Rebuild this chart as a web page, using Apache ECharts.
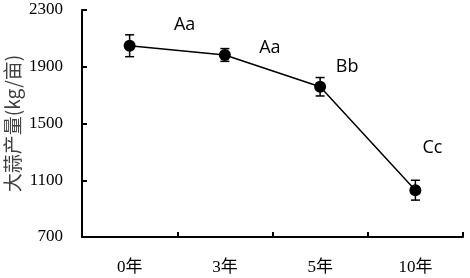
<!DOCTYPE html>
<html>
<head>
<meta charset="utf-8">
<script src="https://cdn.jsdelivr.net/npm/echarts@6/dist/echarts.min.js"></script>
<style>
  html, body { margin:0; padding:0; background:#fff; }
  #chart { width:470px; height:278px; }
</style>
</head>
<body>
<div id="chart"></div>
<script>
  // ---- data ----------------------------------------------------------------
  const years   = ['0年', '3年', '5年', '10年'];
  const yieldKg = [2048, 1983, 1759, 1030];   // 大蒜产量 kg/亩
  const errKg   = [77, 45, 65, 70];           // error bar half-height
  const letters = ['Aa', 'Aa', 'Bb', 'Cc'];   // significance marks

  // label placement relative to each point (px)
  const letterOffset = [[55, -21], [45, -7], [27, -20], [17, -42]];

  const chart = echarts.init(document.getElementById('chart'), null, { renderer: 'canvas' });

  const serif = '"Liberation Serif", "Noto Sans CJK SC", serif';
  const axisStroke = { color: '#000', width: 2 };

  const opt = {
    backgroundColor: '#fff',
    animation: false,
    grid: { left: 82, right: 7, top: 10, bottom: 41, outerBoundsMode: 'none', containLabel: false },
    xAxis: {
      type: 'category',
      data: years,
      boundaryGap: true,
      axisLine: { lineStyle: axisStroke },
      axisTick: { show: true, inside: true, length: 5, lineStyle: axisStroke },
      axisLabel: { color: '#000', fontFamily: serif, fontSize: 17, margin: 22 },
      splitLine: { show: false }
    },
    yAxis: {
      type: 'value',
      min: 700, max: 2300, interval: 400,
      name: '大蒜产量(kg/亩)',
      nameLocation: 'middle',
      nameGap: 60,
      nameMoveOverlap: false,
      nameTextStyle: { color: '#404040', fontFamily: '"Noto Sans CJK SC", sans-serif', fontSize: 19 },
      axisLine: { show: true, lineStyle: axisStroke },
      axisTick: { show: true, inside: true, length: 5, lineStyle: axisStroke },
      axisLabel: { color: '#000', fontFamily: serif, fontSize: 17, margin: 19, formatter: v => String(v) },
      splitLine: { show: false }
    },
    series: [
      {
        type: 'custom',
        z: 3,
        renderItem: function (params, api) {
          const i = api.value(0);
          const top = api.coord([i, api.value(1) + api.value(2)]);
          const bot = api.coord([i, api.value(1) - api.value(2)]);
          const hw = 4.5;
          const st = { stroke: '#000', lineWidth: 1.5 };
          return {
            type: 'group',
            children: [
              { type: 'line', shape: { x1: top[0], y1: top[1], x2: bot[0], y2: bot[1] }, style: st },
              { type: 'line', shape: { x1: top[0] - hw, y1: top[1], x2: top[0] + hw, y2: top[1] }, style: st },
              { type: 'line', shape: { x1: bot[0] - hw, y1: bot[1], x2: bot[0] + hw, y2: bot[1] }, style: st }
            ]
          };
        },
        data: yieldKg.map((v, i) => [i, v, errKg[i]])
      },
      {
        type: 'line',
        z: 4,
        data: yieldKg.map((v, i) => ({
          value: v,
          label: {
            show: true,
            formatter: letters[i],
            offset: letterOffset[i],
            position: 'inside',
            color: '#000',
            fontFamily: '"Open Sans", sans-serif',
            fontSize: 18
          }
        })),
        symbol: 'circle',
        symbolSize: 12,
        itemStyle: { color: '#000' },
        lineStyle: { color: '#000', width: 1.5 }
      }
    ]
  };
  chart.setOption(opt);
</script>
</body>
</html>
